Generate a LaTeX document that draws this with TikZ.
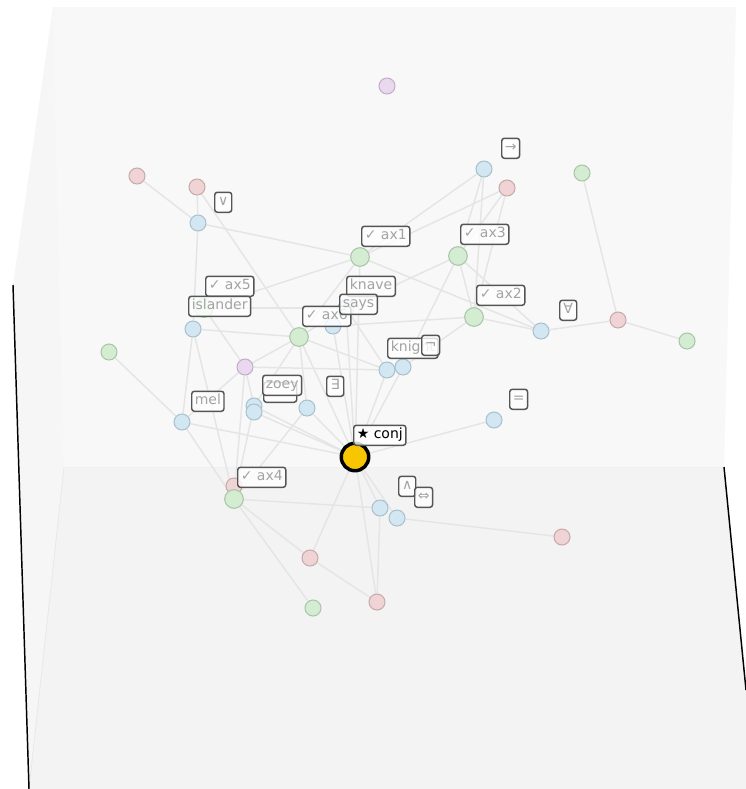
\documentclass[tikz,border=0pt]{standalone}
\usepackage{fontspec}
\setmainfont{DejaVu Sans}
\definecolor{cblue}{HTML}{D2E7F1}
\definecolor{cbluee}{HTML}{A9C2CF}
\definecolor{cpink}{HTML}{F0D3D4}
\definecolor{cpinke}{HTML}{C9AAAB}
\definecolor{cgreen}{HTML}{D4EDD2}
\definecolor{cgreene}{HTML}{A9C6A7}
\definecolor{cpurple}{HTML}{EAD8EF}
\definecolor{cpurplee}{HTML}{C2AFC8}
\definecolor{cedge}{HTML}{E5E5E5}
\definecolor{labd}{HTML}{555555}
\definecolor{labt}{HTML}{A3A3A3}
\definecolor{backpane}{HTML}{F8F8F8}
\definecolor{leftpane}{HTML}{F6F6F6}
\definecolor{floorpane}{HTML}{F3F3F3}
\definecolor{cyellow}{HTML}{F7C600}
\pgfdeclarelayer{panelayer}
\pgfdeclarelayer{edgelayer}
\pgfsetlayers{panelayer,edgelayer,main}
\begin{document}
\begin{tikzpicture}[x=0.75pt,y=-0.75pt,
  dot/.style={circle,inner sep=0pt,minimum size=12pt,line width=0.8pt},
  bdot/.style={dot,fill=cblue,draw=cbluee},
  pdot/.style={dot,fill=cpink,draw=cpinke},
  gdot/.style={dot,fill=cgreen,draw=cgreene},
  gbig/.style={gdot,minimum size=14pt},
  udot/.style={dot,fill=cpurple,draw=cpurplee},
  star/.style={circle,inner sep=0pt,minimum size=20.6pt,fill=cyellow,draw=black,line width=2.6pt},
  lab/.style={draw=labd,line width=1.1pt,rounded corners=2pt,fill=white,fill opacity=0.8,text opacity=1,text=labt,font=\fontsize{10.5}{12}\selectfont,inner xsep=2.3pt,inner ysep=0pt,text height=7.8pt,text depth=2.3pt,minimum height=15pt,minimum width=12.75pt,anchor=south west},
  link/.style={draw=cedge,line width=1.1pt},
  axisline/.style={draw=black,line width=1.1pt}]
\useasboundingbox (0,0) rectangle (746,789);
\begin{pgfonlayer}{panelayer}
  \fill[white] (0,0) rectangle (746,789);
  \fill[backpane] (53,7) -- (736,7) -- (724,467) -- (64,467) -- cycle;
  \fill[leftpane] (53,7) -- (64,467) -- (29,789) -- (13,285) -- cycle;
  \fill[floorpane] (64,467) -- (724,467) -- (746,690) -- (746,789) -- (29,789) -- cycle;
  \draw[draw=white!91!black,line width=0.6pt] (64,467) -- (29,789);
  \draw[draw=white!94!black,line width=0.6pt] (64,467) -- (724,467);
  \draw[axisline] (13,285) -- (29,789);
  \draw[axisline] (724,467) -- (746,690);
\end{pgfonlayer}
% nodes
\node[pdot] (n1) at (137,176) {};
\node[pdot] (n2) at (197,187) {};
\node[bdot] (n3) at (198,223) {};
\node[udot] (n4) at (387,86) {};
\node[bdot] (n5) at (484,169) {};
\node[pdot] (n6) at (507,188) {};
\node[gdot] (n7) at (582,173) {};
\node[gbig] (g1) at (360,257) {};
\node[gbig] (g3) at (458,256) {};
\node[gbig] (g2) at (474,317) {};
\node[bdot] (n8) at (541,331) {};
\node[pdot] (n9) at (618,320) {};
\node[gdot] (n10) at (687,341) {};
\node[gbig] (g5) at (204,308) {};
\node[bdot] (n11) at (193,329) {};
\node[gdot] (n12) at (109,352) {};
\node[gbig] (g6) at (299,337) {};
\node[bdot] (n13) at (333,326) {};
\node[bdot] (n14) at (346,308) {};
\node[udot] (n15) at (245,367) {};
\node[bdot] (n16) at (182,422) {};
\node[bdot] (n17) at (254,406) {};
\node[bdot] (n18) at (254,412) {};
\node[bdot] (n19) at (307,408) {};
\node[bdot] (n20) at (387,370) {};
\node[bdot] (n21) at (403,367) {};
\node[bdot] (n22) at (494,420) {};
\node[pdot] (n23) at (234,486) {};
\node[gbig] (g4) at (234,499) {};
\node[bdot] (n24) at (380,508) {};
\node[bdot] (n25) at (397,518) {};
\node[pdot] (n26) at (310,558) {};
\node[gdot] (n27) at (313,608) {};
\node[pdot] (n28) at (377,602) {};
\node[pdot] (n29) at (562,537) {};
\node[star] (Y) at (355,457) {};
% connectors
\begin{pgfonlayer}{edgelayer}
\foreach \a/\b in {n1/n3,n2/n3,n3/g1,n3/n11,n2/g6,
  g1/n5,g1/n6,g1/n8,g1/g5,g1/g6,g1/Y,
  n5/g3,n5/g2,n6/g3,n6/g2,
  g3/n21,g3/n14,g3/n8,g3/g2,
  g2/n8,g2/n13,g2/n21,
  n8/n9,n9/n7,n9/n10,
  g5/n14,g5/n15,n11/n16,n11/g4,n11/g6,n12/n16,
  n15/n20,n15/n17,n15/g6,n15/n16,n15/g4,
  g6/n17,g6/n20,g6/Y,g6/n14,
  n14/n20,n14/Y,n13/Y,
  n20/Y,n21/Y,n22/Y,
  n16/Y,n16/g4,n17/Y,n18/Y,n17/g4,n19/g4,n19/Y,n19/g6,
  Y/n24,Y/n25,Y/n26,Y/n28,
  g4/n24,g4/n26,g4/n27,n26/n28,n24/n28,n25/n29,n23/g4}
  \draw[link] (\a) -- (\b);
\end{pgfonlayer}
% labels
\node[lab] (l1) at (214,213) {∨};
\node[lab] (l2) at (501,159) {→};
\node[lab] (l3) at (361,247) {✓ ax1};
\node[lab] (l4) at (460,245) {✓ ax3};
\node[lab] (l5) at (559,321) {∀};
\node[lab] (l6) at (476,306) {✓ ax2};
\node[lab] (l7) at (346,297) {knave};
\node[lab] (l8) at (302,327) {✓ ax6};
\node[lab] (l9) at (339,315) {says};
\node[lab] (l10) at (387,359) {knight};
\node[lab] (l11) at (421,356) {¬};
\node[lab] (l12) at (326,397) {∃};
\node[lab] (l13) at (509,410) {=};
\node[lab] (l14) at (205,297) {✓ ax5};
\node[lab] (l15) at (188,317) {islander};
\node[lab] (l16) at (191,412) {mel};
\node[lab,minimum width=24.75pt] (l17) at (263,403) {};
\node[lab] (l18) at (262,396) {zoey};
\node[lab] (l19) at (237,488) {✓ ax4};
\node[lab] (l20) at (398,497) {∧};
\node[lab] (l21) at (414,508) {⇔};
\node[lab,text=black] (l22) at (353,446) {★ conj};
\end{tikzpicture}
\end{document}
